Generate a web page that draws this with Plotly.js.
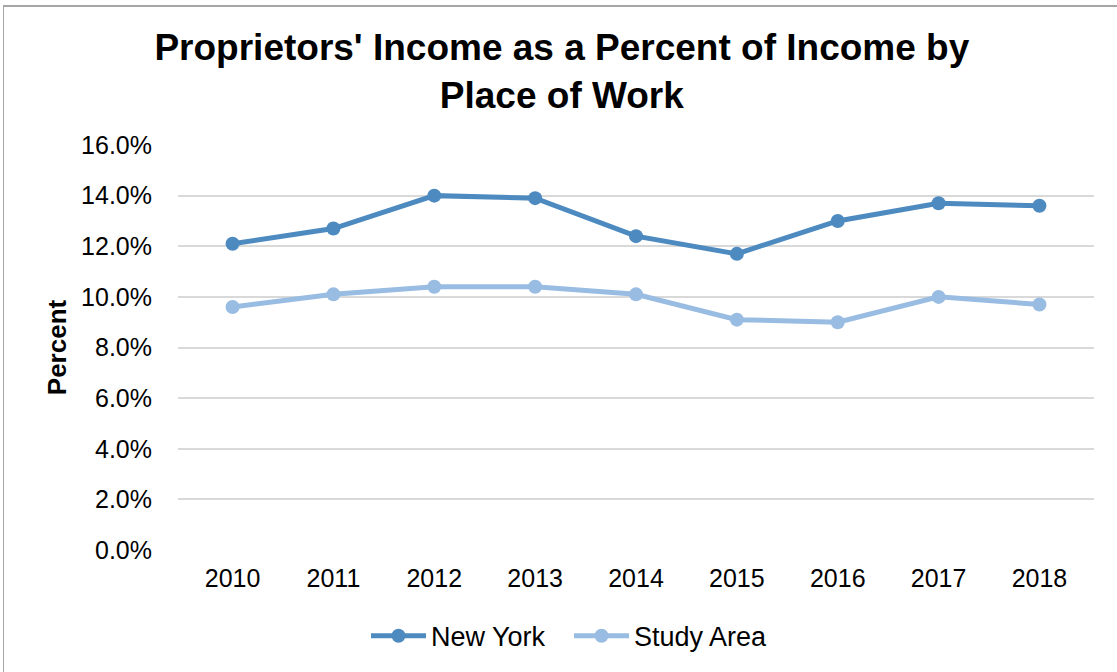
<!DOCTYPE html>
<html>
<head>
<meta charset="utf-8">
<script src="https://cdn.plot.ly/plotly-3.0.1.min.js"></script>
<style>
  html, body { margin: 0; padding: 0; background: #fff; }
  #chart { width: 1117px; height: 672px; }
  #frame { position: absolute; left: 3px; top: 5px; width: 1120px; height: 700px;
           border-top: 2px solid #a6a6a6; border-left: 1px solid #a6a6a6; pointer-events: none; }
</style>
</head>
<body>
<div id="chart"></div>
<div id="frame"></div>
<script>
const years = ['2010','2011','2012','2013','2014','2015','2016','2017','2018'];
const newYork = [12.1, 12.7, 14.0, 13.9, 12.4, 11.7, 13.0, 13.7, 13.6];
const studyArea = [9.6, 10.1, 10.4, 10.4, 10.1, 9.1, 9.0, 10.0, 9.7];
const yTicks = [0, 2, 4, 6, 8, 10, 12, 14, 16];

const font = 'Liberation Sans, Arial, Helvetica, sans-serif';

const traces = [
  { x: years, y: newYork, name: 'New York', type: 'scatter', mode: 'lines+markers', legend: 'legend',
    line: { color: '#4d8ac0', width: 5 }, marker: { color: '#4d8ac0', size: 14 } },
  { x: years, y: studyArea, name: 'Study Area', type: 'scatter', mode: 'lines+markers', legend: 'legend2',
    line: { color: '#99bce2', width: 5 }, marker: { color: '#99bce2', size: 14 } }
];

const legendCommon = {
  orientation: 'h', xanchor: 'left', y: -0.21, yanchor: 'middle',
  font: { size: 27 }, itemwidth: 55, bgcolor: 'rgba(0,0,0,0)'
};

const layout = {
  width: 1117, height: 672,
  margin: { l: 178, r: 23, t: 145, b: 121 },
  paper_bgcolor: '#fff', plot_bgcolor: '#fff',
  font: { family: font, color: '#000', size: 25 },
  title: {
    text: "<b>Proprietors' Income as a Percent of Income by<br>Place of Work</b>",
    x: 0.503, xanchor: 'center', y: 1 - 60/672, yanchor: 'top',
    font: { family: font, size: 37, color: '#000' }
  },
  xaxis: {
    type: 'category', tickvals: years, ticktext: years,
    showgrid: false, zeroline: false, showline: false, ticks: '',
    ticklabelstandoff: 11, tickfont: { size: 25 }
  },
  yaxis: {
    range: [0, 16], tickvals: yTicks,
    ticktext: yTicks.map(v => v.toFixed(1) + '%'),
    showgrid: true, gridcolor: '#d9d9d9', gridwidth: 2,
    zeroline: false, showline: false, ticks: '',
    ticklabelstandoff: 25, tickfont: { size: 25 },
    title: { text: '<b>Percent</b>', font: { size: 26 }, standoff: 7 }
  },
  legend: Object.assign({}, legendCommon, { x: (366 - 178) / 916 }),
  legend2: Object.assign({}, legendCommon, { x: (569 - 178) / 916 }),
  showlegend: true
};

Plotly.newPlot('chart', traces, layout, { displayModeBar: false, staticPlot: true });
</script>
</body>
</html>
